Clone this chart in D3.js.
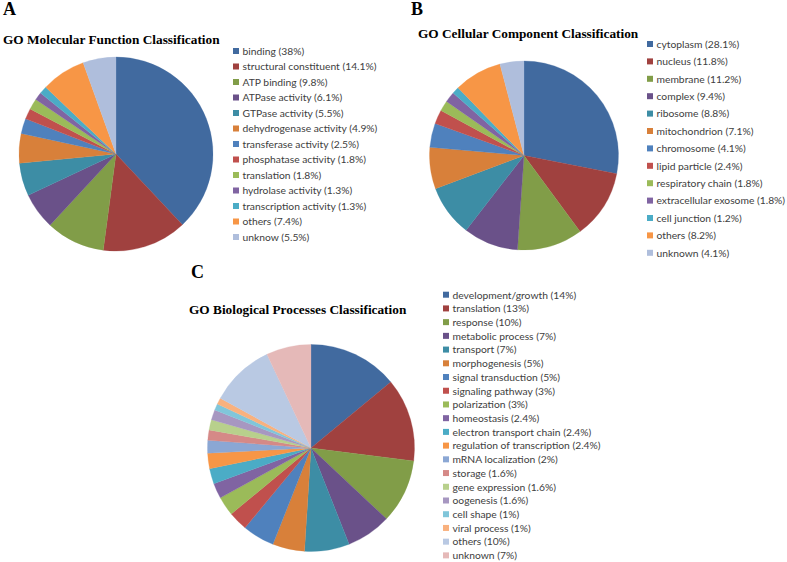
<!DOCTYPE html>
<html>
<head>
<meta charset="utf-8">
<script src="https://cdn.jsdelivr.net/npm/d3@7"></script>
<style>
  html, body { margin: 0; padding: 0; background: #ffffff; }
  svg { display: block; }
</style>
</head>
<body>
<svg id="chart" width="787" height="562"></svg>
<script>
// ---- Data ----
const mfLabels = ["binding (38%)", "structural constituent (14.1%)", "ATP binding (9.8%)", "ATPase activity (6.1%)",
  "GTPase activity (5.5%)", "dehydrogenase activity (4.9%)", "transferase activity (2.5%)", "phosphatase activity (1.8%)",
  "translation (1.8%)", "hydrolase activity (1.3%)", "transcription activity (1.3%)", "others (7.4%)", "unknow (5.5%)"];
const mfValues = [38, 14.1, 9.8, 6.1, 5.5, 4.9, 2.5, 1.8, 1.8, 1.3, 1.3, 7.4, 5.5];

const ccLabels = ["cytoplasm (28.1%)", "nucleus (11.8%)", "membrane (11.2%)", "complex (9.4%)", "ribosome (8.8%)",
  "mitochondrion (7.1%)", "chromosome (4.1%)", "lipid particle (2.4%)", "respiratory chain (1.8%)",
  "extracellular exosome (1.8%)", "cell junction (1.2%)", "others (8.2%)", "unknown (4.1%)"];
const ccValues = [28.1, 11.8, 11.2, 9.4, 8.8, 7.1, 4.1, 2.4, 1.8, 1.8, 1.2, 8.2, 4.1];

const bpLabels = ["development/growth (14%)", "translation (13%)", "response (10%)", "metabolic process (7%)",
  "transport (7%)", "morphogenesis (5%)", "signal transduction (5%)", "signaling pathway (3%)", "polarization (3%)",
  "homeostasis (2.4%)", "electron transport chain (2.4%)", "regulation of transcription (2.4%)",
  "mRNA localization (2%)", "storage (1.6%)", "gene expression (1.6%)", "oogenesis (1.6%)", "cell shape (1%)",
  "viral process (1%)", "others (10%)", "unknown (7%)"];
const bpValues = [14, 13, 10, 7, 7, 5, 5, 3, 3, 2.4, 2.4, 2.4, 2, 1.6, 1.6, 1.6, 1, 1, 10, 7];

const panelLetters = ["A", "B", "C"];
const panelTitles = ["GO Molecular Function Classification", "GO Cellular Component Classification",
  "GO Biological Processes Classification"];

// ---- Colours ----
const base13 = ["#416A9F", "#A0413F", "#819D48", "#6A5189", "#3D8DA5", "#D8803A",
  "#4F81BD", "#C0504D", "#9BBB59", "#8064A2", "#4BACC6", "#F79646", "#AFBEDC"];
const bpColors = ["#416A9F", "#A0413F", "#819D48", "#6A5189", "#3D8DA5", "#D8803A",
  "#4F81BD", "#C0504D", "#9BBB59", "#8064A2", "#4BACC6", "#F79646",
  "#8BA7D4", "#D58987", "#B8D08C", "#A797C1", "#80C6DA", "#F9B17E", "#B9C9E3", "#E5B9B8"];

const svg = d3.select("#chart");
svg.append("rect").attr("width", 787).attr("height", 562).attr("fill", "#fff");

const panels = [
  { letter: panelLetters[0], title: panelTitles[0], labels: mfLabels, values: mfValues, colors: base13,
    lx: 3, ly: 15, tx: 3, ty: 44, cx: 116, cy: 154, r: 97,
    legX: 233, legY: 51, legStep: 15.5 },
  { letter: panelLetters[1], title: panelTitles[1], labels: ccLabels, values: ccValues, colors: base13,
    lx: 411, ly: 15, tx: 418, ty: 38, cx: 524, cy: 155.5, r: 94.5,
    legX: 647, legY: 44, legStep: 17.4 },
  { letter: panelLetters[2], title: panelTitles[2], labels: bpLabels, values: bpValues, colors: bpColors,
    lx: 191, ly: 278, tx: 189, ty: 313.5, cx: 311, cy: 448, r: 103.5,
    legX: 443, legY: 294.7, legStep: 13.72 }
];

panels.forEach(p => {
  const g = svg.append("g");
  g.append("text").attr("x", p.lx).attr("y", p.ly).text(p.letter)
    .attr("font-family", "'Liberation Serif', 'Times New Roman', serif")
    .attr("font-weight", "bold").attr("font-size", 18).attr("fill", "#000");
  g.append("text").attr("x", p.tx).attr("y", p.ty).text(p.title)
    .attr("font-family", "'Liberation Serif', 'Times New Roman', serif")
    .attr("font-weight", "bold").attr("font-size", 13.3).attr("fill", "#000");

  const color = d3.scaleOrdinal().domain(p.labels).range(p.colors);
  const pie = d3.pie().sort(null).value((d, i) => p.values[i]);
  const arcs = pie(p.labels);
  const arc = d3.arc().innerRadius(0).outerRadius(p.r);
  g.append("g").attr("transform", `translate(${p.cx},${p.cy})`)
    .selectAll("path").data(arcs).join("path")
    .attr("d", arc).attr("fill", d => color(d.data))
    .attr("stroke", d => color(d.data)).attr("stroke-width", 0.3);

  const y = d3.scaleLinear().domain([0, p.labels.length - 1])
    .range([p.legY, p.legY + p.legStep * (p.labels.length - 1)]);
  const leg = g.append("g");
  const rows = leg.selectAll("g").data(p.labels).join("g")
    .attr("transform", (d, i) => `translate(${p.legX},${y(i)})`);
  rows.append("rect").attr("x", 0).attr("y", -3).attr("width", 6).attr("height", 6)
    .attr("fill", d => color(d));
  rows.append("text").attr("x", 9.5).attr("y", 3.8).text(d => d)
    .attr("font-family", "Lato, 'Open Sans', sans-serif").attr("font-size", 10.3).attr("fill", "#404040");
});
</script>
</body>
</html>
